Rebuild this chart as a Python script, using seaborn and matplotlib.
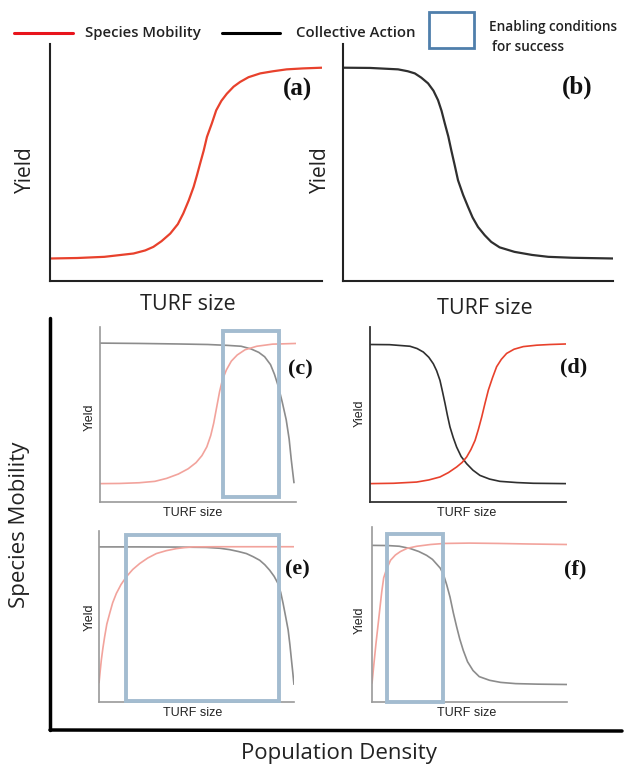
import matplotlib
matplotlib.use("Agg")
import matplotlib.pyplot as plt
from matplotlib.patches import Rectangle
from matplotlib.lines import Line2D
import seaborn as sns

W, H = 631, 769

# curve points, x and y in % of each panel
a_red_x = [0, 10, 20, 30.7, 35, 38, 41, 44.2, 47, 49, 51, 52.8, 54, 55.2, 56.5, 57.7, 59.5, 61.1,
           63, 65, 67.5, 69.9, 73, 77.3, 82, 87, 93, 100]
a_red_y = [9.5, 9.7, 10.2, 11.6, 12.9, 14.4, 16.8, 20, 24, 28.5, 34, 39.7, 44.5, 49.6, 55, 60.8, 66.5, 72,
           76, 79, 82, 84, 86, 87.6, 88.5, 89.3, 89.7, 90]

b_blk_x = [0, 10, 20.4, 24, 26.6, 29, 31.5, 33.5, 35.2, 36.5, 37.7, 39, 40.1, 41.4, 42.6, 44.5, 46.3,
           48, 50, 52.5, 54.9, 58, 63.5, 70, 76, 85, 100]
b_blk_y = [90, 89.9, 89.3, 88.5, 87.6, 85.8, 83.4, 80.3, 76.3, 71.8, 66.5, 61, 55.2, 48.7, 42.5, 36.3, 31.3,
           26.8, 22.8, 19.3, 16.5, 14.2, 12.3, 11, 10.2, 9.8, 9.5]

c_gry_x = [0, 20, 40, 55, 65, 72, 77, 81, 84, 87, 89, 91, 93, 95, 96.5, 97.6, 99]
c_gry_y = [90.8, 90.6, 90.3, 90, 89.5, 89, 87.5, 85.5, 83, 78.5, 73, 66, 57, 47, 36, 24, 10.7]
c_red_x = [0, 10, 20, 28, 34, 40, 45, 49, 52, 54.5, 56.5, 58, 59.5, 61, 62.5, 64.5, 67, 70, 74, 80, 88, 100]
c_red_y = [10.5, 10.6, 11, 11.8, 13.5, 16, 19, 22.5, 26.5, 31.5, 38, 45, 54, 63, 70, 75.5, 80.5, 84, 87, 89,
           90.2, 90.6]
c_box = [62.9, 91.3, 2.7, 98]

d_blk_x = [0, 10, 20.4, 24, 27.2, 30, 32.3, 34, 35.7, 37, 38.3, 39.5, 40.8, 42.5, 44.2, 46.5, 49.3, 52.5,
           56.1, 61, 66.3, 75, 83.3, 100]
d_blk_y = [90, 89.9, 89, 87.7, 85.7, 82.7, 79, 75, 69.5, 63, 56.2, 49.5, 42.9, 36.7, 31.4, 26, 21.9, 18.2,
           15.2, 13.1, 11.8, 11.1, 10.7, 10.5]
d_red_x = [0, 12, 23.8, 30, 35.7, 40, 44.2, 47, 49.3, 51.5, 53.6, 55.3, 57, 58.7, 60.4, 62.5, 64.6, 67,
           69.7, 73.5, 78.2, 85, 91.8, 100]
d_red_y = [10.5, 10.7, 11.4, 12.6, 14.3, 16.8, 20, 22.6, 25.7, 30, 35.2, 41.5, 48.6, 56.5, 64, 71, 77.3,
           81.5, 84.9, 87.3, 88.8, 89.6, 90, 90.3]

e_gry_x = [0, 20, 40, 55, 62, 67, 71.5, 75.6, 79, 82.4, 85, 87.5, 89.8, 91.8, 93.2, 94.4, 95.7, 97, 97.9,
           98.7, 99.4, 100]
e_gry_y = [90.7, 90.7, 90.6, 90.4, 89.9, 89.1, 88, 86.8, 85, 82.9, 80.3, 77.1, 73.5, 69.3, 64, 57.7, 50,
           42.1, 33.5, 24.6, 17, 10]
e_red_x = [0, 0.6, 1.2, 2, 2.9, 4, 5.5, 7, 8.9, 11.3, 14, 17.3, 20.9, 25, 29.4, 34.5, 39.7, 44, 48.2, 60,
           75, 90, 100]
e_red_y = [11, 18, 24.6, 31.5, 38.2, 45.5, 51.9, 58, 63.5, 68.7, 73.2, 77.5, 81, 84.2, 86.8, 88.5, 89.7,
           90.3, 90.7, 90.8, 90.8, 90.8, 90.8]
e_box = [14, 92.3, 0.3, 97.5]

f_gry_x = [0, 8, 14, 19.6, 24, 28, 31, 33, 35, 36.6, 38.3, 40, 41.7, 43.4, 45, 46.8, 49, 51.8, 55, 60.3,
           66, 73.7, 85, 100]
f_gry_y = [89.5, 89.4, 89, 87.7, 86, 83.8, 81.5, 79, 76.5, 73, 67, 60, 51, 43, 36, 29.5, 23, 18, 14.5, 12.4,
           11.2, 10.5, 10.2, 10]
f_red_x = [0, 1, 2, 3, 4, 5, 6, 7.5, 9.5, 12, 14.6, 18, 23, 30, 37, 50, 65, 80, 100]
f_red_y = [10.5, 22, 33, 43, 53, 63, 71, 76, 81, 84, 86, 87.8, 89, 90, 90.6, 90.8, 90.6, 90.3, 90]
f_box = [7.7, 36.2, 0, 95.8]

RED = "#e8412c"
PINK = "#f2a39c"
BLACK = "#2f2f2f"
GREY = "#8c8c8c"
BOX = "#a3bcd0"
TXT = "#222222"

sns.set_style("white")

fig = plt.figure(figsize=(W / 100, H / 100), dpi=100)


def fx(px):
    return px / W


def fy(py):
    return 1 - py / H


def panel(l, t, r, b, spine_col, spine_lw):
    ax = fig.add_axes([fx(l), fy(b), (r - l) / W, (b - t) / H])
    ax.set_xlim(0, 100)
    ax.set_ylim(0, 100)
    ax.set_xticks([])
    ax.set_yticks([])
    for s in ["top", "right"]:
        ax.spines[s].set_visible(False)
    for s in ["left", "bottom"]:
        ax.spines[s].set_color(spine_col)
        ax.spines[s].set_linewidth(spine_lw)
    ax.patch.set_alpha(0)
    return ax


def curve(ax, x, y, col, lw):
    sns.lineplot(x=x, y=y, ax=ax, color=col, linewidth=lw, solid_capstyle="butt")
    ax.set_xlabel("")
    ax.set_ylabel("")


def enabling_box(ax, b):
    ax.add_patch(Rectangle((b[0], b[2]), b[1] - b[0], b[3] - b[2], fill=False,
                           edgecolor=BOX, linewidth=2.8, clip_on=False, zorder=5))


def labels(big, yl, xl, tag, tag_pos):
    fam = ["Open Sans"] if big else ["Liberation Sans"]
    fs = 15 if big else 9
    fig.text(fx(yl[0]), fy(yl[1]), "Yield", rotation=90, ha="center", va="center",
             fontsize=fs, family=fam, color=TXT)
    fig.text(fx(xl[0]), fy(xl[1]), "TURF size", ha="center", va="center",
             fontsize=15.5 if big else 9, family=fam, color=TXT)
    fig.text(fx(tag_pos[0]), fy(tag_pos[1]), tag, ha="center", va="center",
             fontsize=18 if big else 16, fontweight="bold", family=["Liberation Serif"], color="#111111")


# (a)
ax = panel(50, 44, 322, 281, "#222222", 1.5)
curve(ax, a_red_x, a_red_y, RED, 1.6)
labels(True, (25, 170), (188, 305), "(a)", (297, 89))

# (b)
ax = panel(343, 44, 613, 281, "#222222", 1.5)
curve(ax, b_blk_x, b_blk_y, BLACK, 1.6)
labels(True, (320, 170), (485, 308), "(b)", (577, 87))

# (c)
ax = panel(100, 327, 296, 502, "#9a9a9a", 1.2)
curve(ax, c_gry_x, c_gry_y, GREY, 1.2)
curve(ax, c_red_x, c_red_y, PINK, 1.2)
enabling_box(ax, c_box)
labels(False, (90, 417), (193, 513), "(c)", (300, 369))

# (d)
ax = panel(370, 327, 566, 502, "#333333", 1.3)
curve(ax, d_blk_x, d_blk_y, BLACK, 1.2)
curve(ax, d_red_x, d_red_y, RED, 1.2)
labels(False, (360, 413), (467, 513), "(d)", (574, 367))

# (e)
ax = panel(99, 531, 294, 702, "#9a9a9a", 1.2)
curve(ax, e_gry_x, e_gry_y, GREY, 1.2)
curve(ax, e_red_x, e_red_y, PINK, 1.2)
enabling_box(ax, e_box)
labels(False, (90, 617), (193, 713), "(e)", (297, 569))

# (f)
ax = panel(372, 527, 567, 702, "#9a9a9a", 1.2)
curve(ax, f_gry_x, f_gry_y, GREY, 1.2)
curve(ax, f_red_x, f_red_y, PINK, 1.2)
enabling_box(ax, f_box)
labels(False, (360, 620), (467, 713), "(f)", (575, 569))

# outer axes for the 2x2 block
fig.add_artist(Line2D([fx(50), fx(50)], [fy(318), fy(730)], color="black", lw=2.5))
fig.add_artist(Line2D([fx(50), fx(622)], [fy(730), fy(731)], color="black", lw=2.5))
fig.text(fx(20), fy(525), "Species Mobility", rotation=90, ha="center", va="center",
         fontsize=16, family=["Open Sans"], color=TXT)
fig.text(fx(339), fy(753), "Population Density", ha="center", va="center",
         fontsize=16, family=["Open Sans"], color=TXT)

# legend row
leg_kw = dict(va="center", fontweight="semibold", family=["Open Sans"], color=TXT)
fig.add_artist(Line2D([fx(14), fx(73)], [fy(33)] * 2, color="#e8141c", lw=2.2))
fig.text(fx(85), fy(33), "Species Mobility", ha="left", fontsize=10.7, **leg_kw)
fig.add_artist(Line2D([fx(222), fx(280)], [fy(33)] * 2, color="black", lw=2.2))
fig.text(fx(296), fy(33), "Collective Action", ha="left", fontsize=10.7, **leg_kw)
fig.add_artist(Rectangle((fx(429), fy(48)), 45 / W, 36 / H, fill=False,
                         edgecolor="#4f7fab", lw=2, transform=fig.transFigure))
fig.text(fx(489), fy(27), "Enabling conditions", ha="left", fontsize=9.8, **leg_kw)
fig.text(fx(492), fy(47), "for success", ha="left", fontsize=9.8, **leg_kw)

fig.savefig("out.png", dpi=100)
